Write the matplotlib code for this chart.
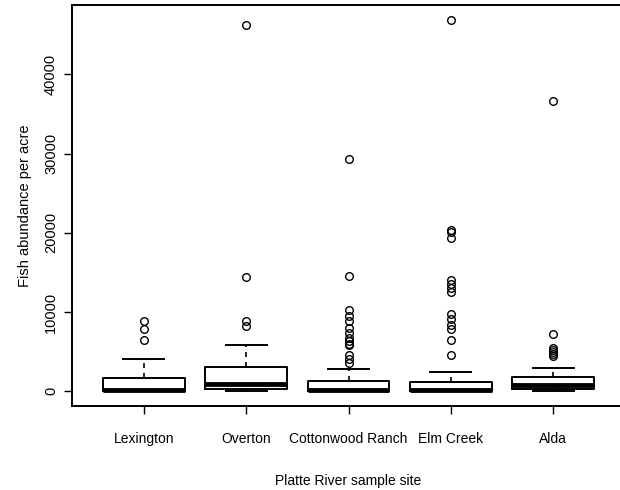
import matplotlib
matplotlib.use("Agg")
import matplotlib.pyplot as plt

# sites and the five-number summaries
sites = ["Lexington", "Overton", "Cottonwood Ranch", "Elm Creek", "Alda"]
whislo = [0, 0, 0, 0, 0]
q1 = [0, 250, 0, 0, 250]
med = [150, 900, 180, 120, 760]
q3 = [1650, 3050, 1270, 1150, 1780]
whishi = [4060, 5840, 2800, 2400, 2900]

# outliers per site
fliers = [
    [8900, 7850, 6500],
    [46200, 14400, 8800, 8200],
    [29300, 14500, 10300, 9500, 8800, 8000, 7300, 6700, 6300, 6000,
     5800, 4600, 4000, 3600],
    [46900, 20400, 20100, 19300, 14000, 13500, 13000, 12500, 9800,
     9100, 8400, 7800, 6400, 4600],
    [36700, 7200, 5400, 5150, 4950, 4700, 4500],
]

plt.rcParams['font.family'] = ['Liberation Sans', 'DejaVu Sans']

fig = plt.figure(figsize=(6.2, 4.9), dpi=100)
ax = fig.add_axes([72 / 620, 84 / 490, 553 / 620, 401 / 490])

stats = []
for i in range(len(sites)):
    stats.append(dict(whislo=whislo[i], q1=q1[i], med=med[i], q3=q3[i],
                      whishi=whishi[i], fliers=fliers[i], label=sites[i]))

ax.bxp(stats, positions=range(1, len(sites) + 1), widths=0.8,
       boxprops=dict(color="black", linewidth=1.4),
       medianprops=dict(color="black", linewidth=3.5, solid_capstyle="butt"),
       whiskerprops=dict(color="black", linewidth=1.2, linestyle=(0, (3, 3))),
       capprops=dict(color="black", linewidth=1.4),
       flierprops=dict(marker="o", markerfacecolor="none",
                       markeredgecolor="black", markersize=5.5,
                       markeredgewidth=1.0),
       capwidths=0.4)

# R style axis extension (4%)
top = 46900
ax.set_xlim(0.3, 5.7)
ax.set_ylim(-0.04 * top, top * 1.04)

ax.set_yticks([0, 10000, 20000, 30000, 40000])
ax.set_yticklabels(["0", "10000", "20000", "30000", "40000"],
                   rotation=90, va="center")
ax.tick_params(axis="both", direction="out", length=6, width=1.0,
               labelsize=10)
ax.tick_params(axis="y", pad=4, labelsize=10.5)
ax.tick_params(axis="x", pad=13)
for s in ax.spines.values():
    s.set_linewidth(1.4)

ax.set_xlabel("Platte River sample site", fontsize=10, labelpad=20)
ax.set_ylabel("Fish abundance per acre", fontsize=10.5, labelpad=9)

fig.savefig("out.png", dpi=100)
